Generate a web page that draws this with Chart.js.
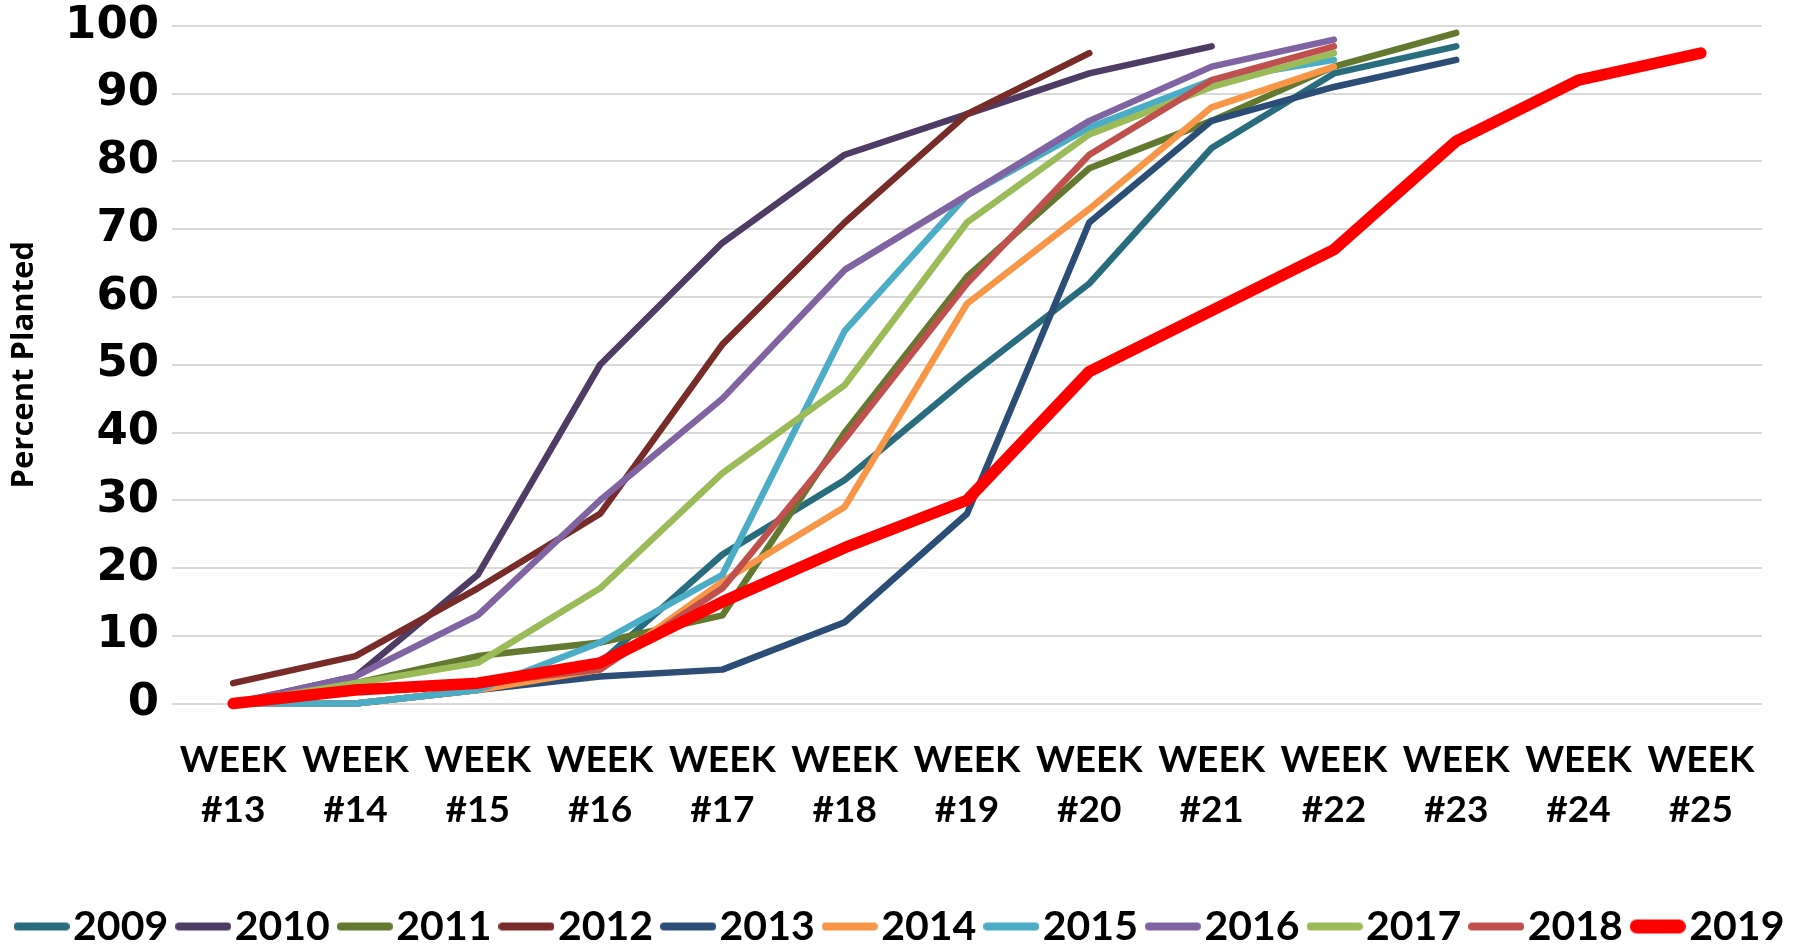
<!DOCTYPE html>
<html>
<head>
<meta charset="utf-8">
<script src="https://cdn.jsdelivr.net/npm/chart.js@4.4.1/dist/chart.umd.min.js"></script>
<style>
  html, body { margin: 0; padding: 0; background: #fff; }
</style>
</head>
<body>
<canvas id="ch1" width="1815" height="948"></canvas>
<script>
// weeks on the x axis
var weeks = ['#13', '#14', '#15', '#16', '#17', '#18', '#19', '#20', '#21', '#22', '#23', '#24', '#25'];
var years = ['2009', '2010', '2011', '2012', '2013', '2014', '2015', '2016', '2017', '2018', '2019'];

// percent planted per week, one array per year
var p2009 = [0, 0, 2, 6, 22, 33, 48, 62, 82, 93, 97];
var p2010 = [0, 4, 19, 50, 68, 81, 87, 93, 97];
var p2011 = [0, 3, 7, 9, 13, 40, 63, 79, 86, 94, 99];
var p2012 = [3, 7, 17, 28, 53, 71, 87, 96];
var p2013 = [0, 0, 2, 4, 5, 12, 28, 71, 86, 91, 95];
var p2014 = [0, 0, 2, 5, 18, 29, 59, 73, 88, 94];
var p2015 = [0, 0, 2, 9, 19, 55, 75, 85, 92, 95];
var p2016 = [0, 4, 13, 30, 45, 64, 75, 86, 94, 98];
var p2017 = [0, 3, 6, 17, 34, 47, 71, 84, 91, 96];
var p2018 = [0, 2, 3, 5, 17, 39, 62, 81, 92, 97];
var p2019 = [0, 2, 3, 6, 15, 23, 30, 49, 58, 67, 83, 92, 96];

var series = [p2009, p2010, p2011, p2012, p2013, p2014, p2015, p2016, p2017, p2018, p2019];
var colors = ['#296C7D', '#4F3C64', '#62792F', '#772C2A', '#2C4D75', '#F79646', '#4BACC6', '#8064A2', '#9BBB59', '#C0504D', '#FF0000'];

// little line swatch for the legend
function swatch(color, w) {
  var c = document.createElement('canvas');
  c.width = 56;
  c.height = 18;
  var g = c.getContext('2d');
  g.strokeStyle = color;
  g.lineWidth = w;
  g.lineCap = 'round';
  g.beginPath();
  g.moveTo(w / 2, 9);
  g.lineTo(56 - w / 2, 9);
  g.stroke();
  return c;
}

var datasets = years.map(function (y, i) {
  var last = i === years.length - 1;
  return {
    label: y,
    data: series[i],
    borderColor: colors[i],
    backgroundColor: colors[i],
    borderWidth: last ? 11.5 : 6.5,
    borderCapStyle: 'round',
    borderJoinStyle: 'round',
    pointRadius: 0,
    tension: 0,
    fill: false,
    clip: false,
    order: years.length - i   // later years drawn on top
  };
});

var ctx = document.getElementById('ch1').getContext('2d');

var myChart = new Chart(ctx, {
  type: 'line',
  data: {
    labels: weeks.map(function (w) { return ['WEEK', w]; }),
    datasets: datasets
  },
  options: {
    responsive: false,
    animation: false,
    devicePixelRatio: 1,
    layout: { padding: { left: 0, right: 0, top: 26, bottom: -9 } },
    plugins: {
      tooltip: { enabled: false },
      legend: {
        position: 'bottom',
        labels: {
          color: '#000',
          font: { family: 'Lato', weight: 'bold', size: 41 },
          usePointStyle: true,
          pointStyleWidth: 22,
          padding: 24,
          generateLabels: function (chart) {
            var items = Chart.defaults.plugins.legend.labels.generateLabels(chart);
            items.forEach(function (it) {
              var ds = chart.data.datasets[it.datasetIndex];
              it.pointStyle = swatch(ds.borderColor, ds.borderWidth * 1.2);
            });
            return items;
          },
          sort: function (a, b) { return a.datasetIndex - b.datasetIndex; }
        }
      }
    },
    scales: {
      x: {
        offset: true,
        grid: { display: false, drawTicks: false },
        border: { display: false },
        ticks: {
          color: '#000',
          font: { family: 'Lato', weight: 'bold', size: 37, lineHeight: 1.35 },
          padding: 32,
          maxRotation: 0,
          autoSkip: false
        },
        afterFit: function (scale) { scale.height = 178.5; }
      },
      y: {
        min: 0,
        max: 100,
        ticks: {
          stepSize: 10,
          color: '#000',
          font: { family: 'DejaVu Sans', weight: 'bold', size: 45 },
          padding: 13
        },
        grid: { color: '#D9D9D9', lineWidth: 2, drawTicks: false },
        border: { display: false },
        title: {
          display: true,
          text: 'Percent Planted',
          color: '#000',
          font: { family: 'Open Sans', weight: 'bold', size: 31 },
          padding: { top: 6, bottom: 0 }
        },
        afterFit: function (scale) {
          scale.width = 172;
          scale.paddingTop = 0;   // top edge comes from layout padding
        }
      },
      // empty right-hand axis, only to keep the plot edge off the right side
      yRight: {
        position: 'right',
        display: true,
        grid: { display: false, drawTicks: false },
        border: { display: false },
        ticks: { display: false },
        afterFit: function (scale) { scale.width = 53; }
      }
    }
  }
});
</script>
</body>
</html>
